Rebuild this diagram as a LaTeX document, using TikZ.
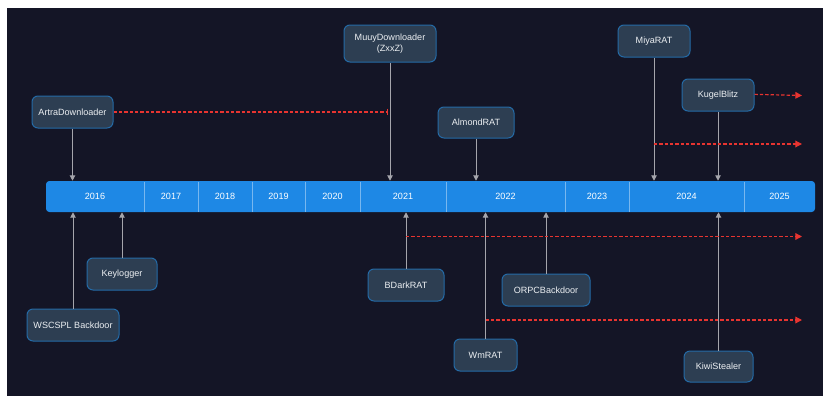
\documentclass[tikz,border=0pt]{standalone}
\usepackage{fontspec}
\setmainfont{Liberation Sans}
\usetikzlibrary{arrows.meta}

\definecolor{bgnavy}{RGB}{20,21,38}
\definecolor{evtfill}{RGB}{45,62,82}
\definecolor{evtborder}{RGB}{36,106,166}
\definecolor{evttext}{RGB}{236,239,242}
\definecolor{barblue}{RGB}{30,136,229}
\definecolor{linkgray}{RGB}{165,165,172}
\definecolor{contred}{RGB}{232,52,48}

\tikzset{
  evt/.style={draw=evtborder, fill=evtfill, rounded corners=4.5pt, line width=0.75pt,
    text=evttext, font=\fontsize{6.8}{8.2}\selectfont, minimum height=24pt,
    inner sep=0pt, align=center},
  timebar/.style={fill=barblue, rounded corners=2.5pt, inner sep=0pt,
    minimum width=576.75pt, minimum height=23.25pt},
  yearlbl/.style={text=white, font=\fontsize{6.8}{8.2}\selectfont, inner sep=0pt},
  divider/.style={draw=white, draw opacity=0.4, line width=0.75pt},
  link/.style={draw=linkgray, line width=0.75pt, -{Triangle[width=4pt,length=4pt]}},
  cont/.style={draw=contred, line width=0.9pt, dash pattern=on 2.5pt off 1.5pt,
    -{Triangle[width=5pt,length=5pt]}}
}

\begin{document}
\begin{tikzpicture}[x=0.75pt,y=0.75pt,yscale=-1,xscale=1]
\useasboundingbox (0,0) rectangle (823,396);
\fill[white] (0,0) rectangle (823,396);
\fill[bgnavy] (7,8) rectangle (823,396);

%Time bar
\node[timebar] (bar) at (430.5,196.5) {};
\foreach \x in {144,198,252,305,360,446,565,629,744}
  \draw[divider] (\x,181.5) -- (\x,211.5);
\foreach \yr/\x in {2016/95,2017/171,2018/225,2019/278.5,2020/332.5,2021/403,2022/505.5,2023/597,2024/686.5,2025/779.5}
  \node[yearlbl] (y\yr) at (\x,196.5) {\yr};

%Events above
\node[evt, minimum width=60.75pt] (artra) at (72.5,112) {ArtraDownloader};
\node[evt, minimum width=69pt, minimum height=27.75pt] (muuy) at (390,43.5) {MuuyDownloader\\(ZxxZ)};
\node[evt, minimum width=57pt, minimum height=23.25pt] (almond) at (476,122.5) {AlmondRAT};
\node[evt, minimum width=54pt] (miya) at (654,41) {MiyaRAT};
\node[evt, minimum width=54pt] (kugel) at (718,95) {KugelBlitz};

%Events below
\node[evt, minimum width=69pt] (wscspl) at (73,325) {WSCSPL Backdoor};
\node[evt, minimum width=52.5pt] (keylog) at (122,274) {Keylogger};
\node[evt, minimum width=57pt] (bdark) at (406,285) {BDarkRAT};
\node[evt, minimum width=66pt] (orpc) at (546,290) {ORPCBackdoor};
\node[evt, minimum width=47.25pt] (wmrat) at (485.5,355) {WmRAT};
\node[evt, minimum width=51.75pt, minimum height=23.25pt] (kiwi) at (718.5,366.5) {KiwiStealer};

%Links to the bar
\foreach \ev in {artra,muuy,almond,miya,kugel}
  \draw[link] (\ev.south) -- (\ev.south |- bar.north);
\foreach \ev in {wscspl,keylog,bdark,orpc,wmrat,kiwi}
  \draw[link] (\ev.north) -- (\ev.north |- bar.south);

%Continuation lines
\coordinate (miyafork) at (miya.south |- 0,144);
\coordinate (miyaend) at (802,144);
\coordinate (kugelend) at (802,95.5);
\coordinate (bdarkfork) at (bdark.north |- 0,236.5);
\coordinate (bdarkend) at (802,236.5);
\coordinate (wmratfork) at (wmrat.north |- 0,320);
\coordinate (wmratend) at (802,320);
\draw[cont, -{Bar[width=5pt,line width=0.75pt]}] (artra.east) -- ([xshift=-1.5]artra.east -| muuy.south);
\draw[cont] ([yshift=-0.5]kugel.east) -- (kugelend);
\draw[cont] (miyafork) -- (miyaend);
\draw[cont] (bdarkfork) -- (bdarkend);
\draw[cont] (wmratfork) -- (wmratend);

\end{tikzpicture}
\end{document}
